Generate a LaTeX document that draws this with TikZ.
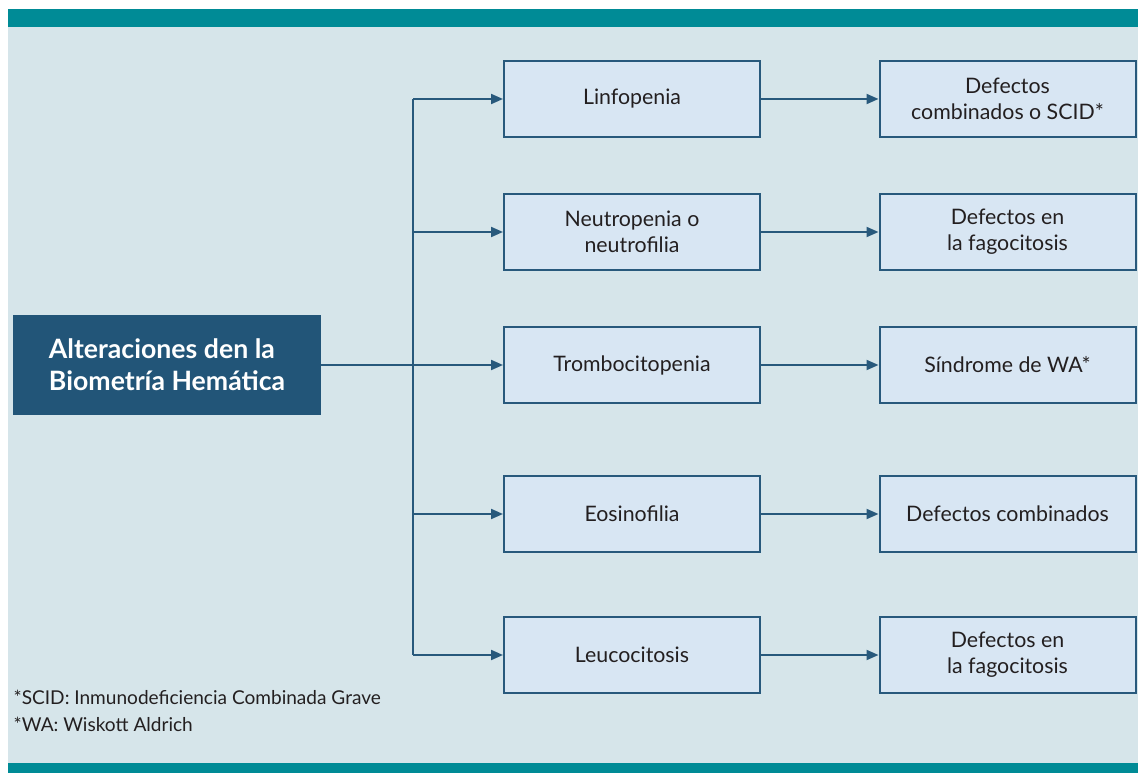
\documentclass[tikz,border=0pt]{standalone}
\usepackage{fontspec}
\setmainfont{Lato}
\usetikzlibrary{arrows.meta}

\definecolor{barteal}{RGB}{0,139,150}
\definecolor{panelbg}{RGB}{214,229,234}
\definecolor{boxfill}{RGB}{216,230,243}
\definecolor{boxline}{RGB}{40,89,124}
\definecolor{titlefill}{RGB}{34,85,120}
\definecolor{txtgray}{RGB}{35,31,32}

\tikzset{
  item/.style={draw=boxline, line width=1.5pt, fill=boxfill, text=txtgray,
    minimum width=192pt, minimum height=57pt, align=center,
    font=\fontsize{16}{19.5}\selectfont},
  link/.style={draw=boxline, line width=1.5pt, -{Triangle[length=9pt,width=7.5pt]}},
  trunk/.style={draw=boxline, line width=1.5pt}
}

\begin{document}
\begin{tikzpicture}[x=0.75pt,y=0.75pt,yscale=-1]
\useasboundingbox (0,0) rectangle (1138,773);

%Panel and bars
\fill[panelbg] (8,27) rectangle (1138,763);
\fill[barteal] (8,9) rectangle (1138,27);
\fill[barteal] (8,763) rectangle (1138,773);

%Title box
\node[fill=titlefill, text=white, minimum width=231pt, minimum height=75pt,
  align=left, font=\fontsize{20}{24}\selectfont\bfseries] (alt) at (167,365)
  {Alteraciones den la\\Biometría Hemática};

%Middle column
\node[item] (linf) at (632,99) {Linfopenia};
\node[item] (neut) at (632,232) {Neutropenia o\\neutrofilia};
\node[item] (tromb) at (632,365) {Trombocitopenia};
\node[item] (eosi) at (632,514) {Eosinofilia};
\node[item] (leuc) at (632,655) {Leucocitosis};

%Right column
\node[item] (scid) at (1007.5,99) {Defectos\\combinados o SCID*};
\node[item] (fago1) at (1007.5,232) {Defectos en\\la fagocitosis};
\node[item] (wa) at (1007.5,365) {Síndrome de WA*};
\node[item] (comb) at (1007.5,514) {Defectos combinados};
\node[item] (fago2) at (1007.5,655) {Defectos en\\la fagocitosis};

%Trunk
\coordinate (ttop) at (413,99);
\coordinate (tbot) at (413,655);
\draw[trunk] (ttop) -- (tbot);
\draw[trunk] (alt.east) -- (413,365);

%Branches
\draw[link] (ttop) -- (linf.west);
\draw[link] (413,232) -- (neut.west);
\draw[link] (alt.east) -- (tromb.west);
\draw[link] (413,514) -- (eosi.west);
\draw[link] (tbot) -- (leuc.west);

%Effects
\draw[link] (linf) -- (scid);
\draw[link] (neut) -- (fago1);
\draw[link] (tromb) -- (wa);
\draw[link] (eosi) -- (comb);
\draw[link] (leuc) -- (fago2);

% Text Node
\node[anchor=west, text=txtgray, align=left, font=\fontsize{14.3}{20}\selectfont] (notes) at (9,711)
  {*SCID: Inmunodeficiencia Combinada Grave\\*WA: Wiskott Aldrich};

\end{tikzpicture}
\end{document}
